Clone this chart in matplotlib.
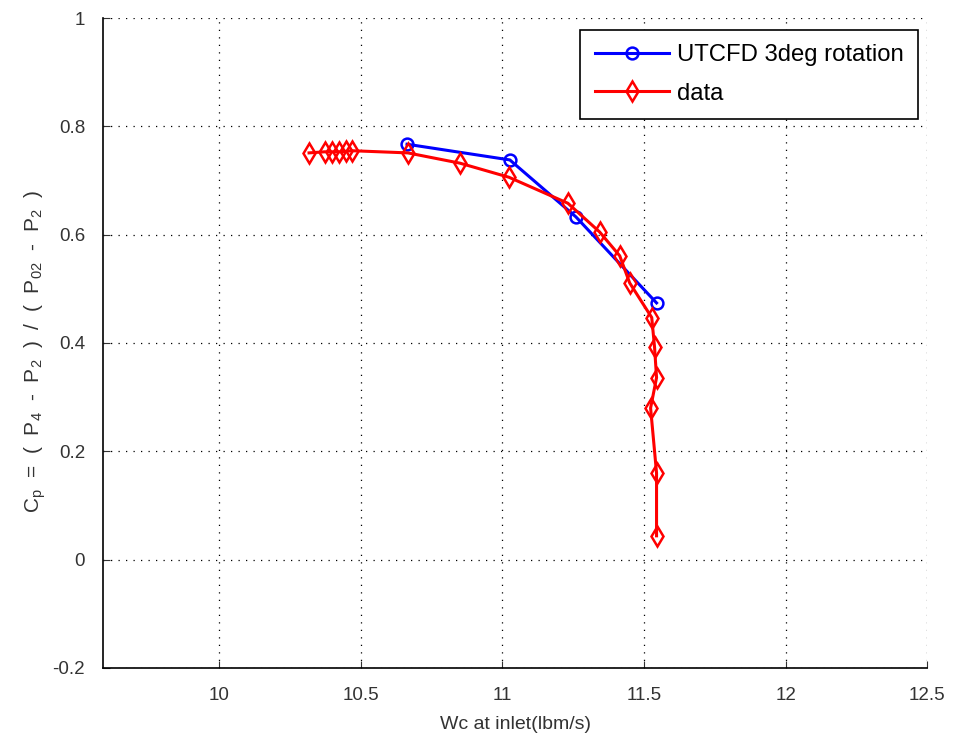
import matplotlib
matplotlib.use("Agg")
import matplotlib.pyplot as plt

plt.rcParams['font.family'] = ['Liberation Sans', 'DejaVu Sans']

# UTCFD 3deg rotation
cfd_wc = [10.663, 11.026, 11.259, 11.544]
cfd_cp = [0.767, 0.738, 0.633, 0.474]

# experimental data
data_wc = [10.317, 10.372, 10.398, 10.423, 10.448, 10.469, 10.666, 10.850, 11.023,
           11.231, 11.343, 11.414, 11.449, 11.527, 11.537, 11.544, 11.523, 11.544, 11.544]
data_cp = [0.751, 0.753, 0.753, 0.753, 0.754, 0.755, 0.751, 0.732, 0.706,
           0.658, 0.605, 0.561, 0.511, 0.447, 0.392, 0.336, 0.280, 0.160, 0.044]

xticks = [10, 10.5, 11, 11.5, 12, 12.5]
xticklabels = ['10', '10.5', '11', '11.5', '12', '12.5']
yticks = [-0.2, 0, 0.2, 0.4, 0.6, 0.8, 1]
yticklabels = ['-0.2', '0', '0.2', '0.4', '0.6', '0.8', '1']

fig = plt.figure(figsize=(9.55, 7.45), dpi=100)
ax = fig.add_axes([0.108, 0.1034, 0.863, 0.8724])

ax.plot(cfd_wc, cfd_cp, color='blue', lw=2.2, marker='o', ms=8.5,
        mfc='none', mec='blue', mew=1.8, label='UTCFD 3deg rotation')
ax.plot(data_wc, data_cp, color='red', lw=2.2, marker='d', ms=10,
        mfc='none', mec='red', mew=1.8, label='data')

ax.set_xlim(9.59, 12.5)
ax.set_ylim(-0.2, 1)
ax.set_xticks(xticks)
ax.set_xticklabels(xticklabels)
ax.set_yticks(yticks)
ax.set_yticklabels(yticklabels)
ax.tick_params(direction='in', labelsize=13.5, length=5, width=0.8, colors='#333333')
ax.tick_params(axis='x', pad=14)
ax.tick_params(axis='y', pad=13)

ax.grid(True, linestyle=(0, (1, 5)), color='black', linewidth=0.9)
ax.spines['top'].set_visible(False)
ax.spines['right'].set_visible(False)
for s in ['left', 'bottom']:
    ax.spines[s].set_linewidth(1.2)

ax.set_xlabel('Wc at inlet(lbm/s)', fontsize=14, color='#333333', labelpad=8)
ax.set_ylabel(r'C$_\mathregular{p}$  =  (  P$_\mathregular{4}$  -  P$_\mathregular{2}$  )  /  (  P$_\mathregular{02}$  -  P$_\mathregular{2}$  )',
              fontsize=15, color='#333333', labelpad=4)
ax.yaxis.set_label_coords(-0.067, 0.487)

leg = ax.legend(loc='upper right', fontsize=17.2, fancybox=False, framealpha=1,
                edgecolor='black', borderpad=0.6, handlelength=3.1,
                labelspacing=0.68, handletextpad=0.35, borderaxespad=0,
                bbox_to_anchor=(0.989, 0.9815))
leg.get_frame().set_linewidth(1.2)

fig.savefig('out.png', dpi=100)
